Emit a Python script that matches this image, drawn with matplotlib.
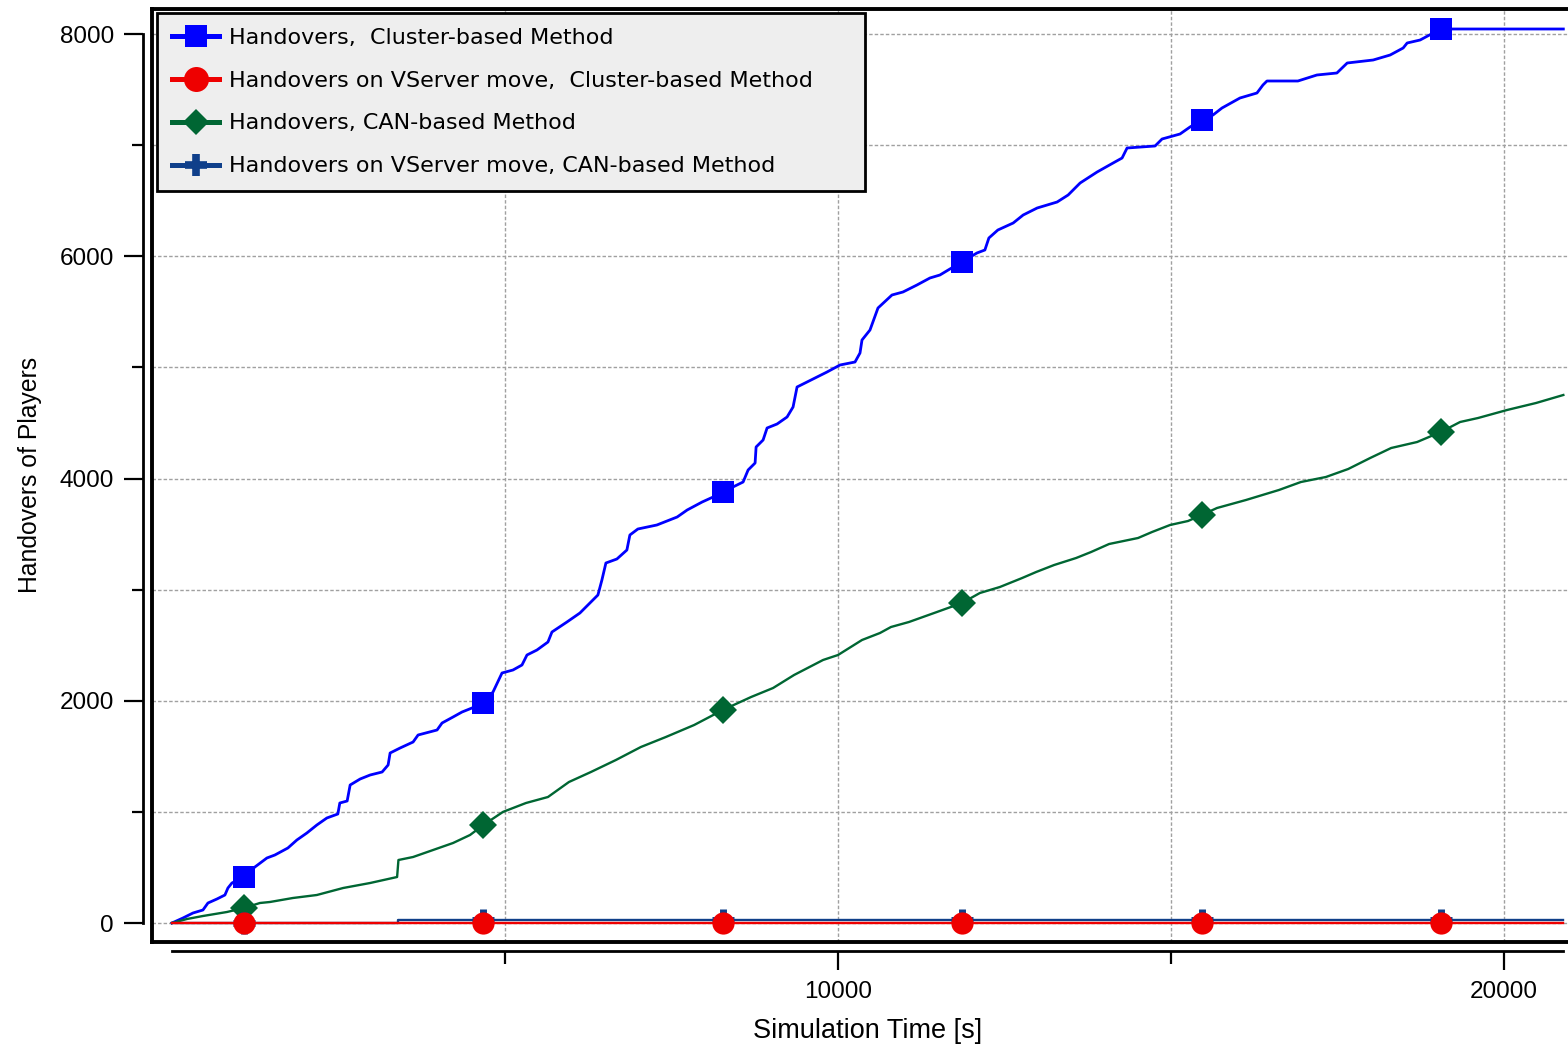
import matplotlib

matplotlib.use("Agg")
import matplotlib.pyplot as plt
from matplotlib.lines import Line2D

# Cumulative handovers over simulation time [s]
cluster_t = [0, 165, 225, 315, 465, 540, 675, 795, 840, 900, 1080, 1245, 1425, 1545, 1740,
             1875, 2025, 2175, 2325, 2490, 2520, 2630, 2675, 2825, 2975, 3155, 3245, 3275,
             3425, 3620, 3695, 3980, 4055, 4220, 4355, 4505, 4670, 4820, 4955, 5120, 5255,
             5330, 5480, 5645, 5705, 5930, 6125, 6275, 6395, 6455, 6515, 6680, 6830, 6875,
             6995, 7280, 7585, 7735, 7960, 8125, 8270, 8575, 8650, 8755, 8770, 8875, 8935,
             9085, 9235, 9325, 9385, 9535, 9835, 10030, 10255, 10330, 10360, 10480, 10600,
             10810, 10975, 11185, 11380, 11530, 11680, 11860, 12085, 12205, 12265, 12400,
             12630, 12780, 12990, 13290, 13455, 13635, 13890, 14130, 14265, 14340, 14760,
             14865, 15135, 15285, 15460, 15630, 15765, 16035, 16290, 16380, 16440, 16905,
             17190, 17490, 17645, 18035, 18290, 18485, 18545, 18740, 19050, 20890]
cluster_h = [0, 45, 63, 90, 117, 180, 216, 252, 315, 360, 414, 504, 585, 612, 675, 747, 810,
             882, 945, 981, 1080, 1098, 1242, 1296, 1332, 1359, 1422, 1530, 1575, 1629, 1692,
             1737, 1800, 1854, 1899, 1935, 1980, 2079, 2250, 2277, 2322, 2412, 2457, 2529,
             2619, 2709, 2790, 2880, 2952, 3087, 3240, 3276, 3357, 3492, 3546, 3582, 3654,
             3717, 3789, 3834, 3879, 3969, 4077, 4140, 4284, 4347, 4455, 4491, 4554, 4644,
             4824, 4869, 4959, 5022, 5049, 5130, 5247, 5337, 5535, 5652, 5679, 5742, 5805,
             5832, 5886, 5949, 6030, 6057, 6165, 6237, 6300, 6372, 6435, 6489, 6552, 6660,
             6759, 6840, 6885, 6975, 6993, 7056, 7101, 7164, 7227, 7272, 7335, 7425, 7470,
             7542, 7578, 7578, 7632, 7650, 7740, 7767, 7812, 7875, 7920, 7947, 8046, 8046]

cluster_vs_t = [0, 1080, 4670, 8270, 11860, 15460, 19050, 20890]
cluster_vs_h = [0, 0, 0, 0, 0, 0, 0, 0]

can_t = [0, 225, 465, 825, 1080, 1320, 1470, 1815, 2175, 2570, 2975, 3380, 3400, 3620, 3920,
         4220, 4475, 4670, 4970, 5315, 5645, 5960, 6290, 6665, 7040, 7415, 7840, 8270, 8695,
         9025, 9340, 9775, 10000, 10360, 10630, 10795, 11065, 11485, 11860, 12130, 12430,
         12765, 12975, 13245, 13575, 13800, 14070, 14505, 14715, 14985, 15255, 15460, 15690,
         16125, 16620, 16950, 17325, 17660, 17990, 18305, 18695, 19050, 19340, 19610, 20045,
         20480, 20890]
can_h = [0, 36, 63, 99, 135, 180, 189, 225, 252, 315, 360, 414, 567, 594, 657, 720, 792, 880,
         1000, 1080, 1134, 1269, 1359, 1467, 1584, 1674, 1782, 1917, 2034, 2115, 2232, 2367,
         2412, 2547, 2610, 2664, 2709, 2799, 2880, 2970, 3024, 3105, 3159, 3222, 3285, 3339,
         3411, 3465, 3519, 3582, 3618, 3672, 3735, 3807, 3897, 3969, 4014, 4086, 4185, 4275,
         4329, 4419, 4509, 4545, 4617, 4680, 4752]

can_vs_t = [0, 1080, 3390, 3390, 4670, 8270, 11860, 15460, 19050, 20890]
can_vs_h = [0, 0, 0, 30, 30, 30, 30, 30, 30, 30]

# samples that carry a symbol on each trace
marker_times = [1080, 4670, 8270, 11860, 15460, 19050]

labels = [
    "Handovers,  Cluster-based Method",
    "Handovers on VServer move,  Cluster-based Method",
    "Handovers, CAN-based Method",
    "Handovers on VServer move, CAN-based Method",
]

BLUE = "#0000ff"
RED = "#ee0000"
GREEN = "#006633"
NAVY = "#0f3f8a"
GRID = "#a0a0a0"


def marks(times):
    return [times.index(m) for m in marker_times]


plt.rcParams["font.family"] = ["Liberation Sans", "DejaVu Sans"]

W, H = 1568, 1047
fig = plt.figure(figsize=(W / 100, H / 100), dpi=100)
rect = [152 / W, 1 - 942 / H, (W - 152) / W, (942 - 9) / H]
xlim = (-300, 20960)
ylim = (-171, 8226)

# plot frame + grid
ax = fig.add_axes(rect)
ax.set_xlim(*xlim)
ax.set_ylim(*ylim)
for side in ("left", "top", "bottom"):
    ax.spines[side].set_linewidth(2.8)
ax.spines["right"].set_visible(False)
ax.set_xticks([5000, 10000, 15000, 20000])
ax.set_yticks(range(0, 8001, 1000))
ax.tick_params(length=0, labelleft=False, labelbottom=False)
ax.grid(True, color=GRID, linestyle=(0, (2.5, 1.5)), linewidth=1.0)
ax.set_axisbelow(True)

ax.plot(cluster_t, cluster_h, color=BLUE, lw=2.0, marker="s", ms=15.5, mew=0,
        markevery=marks(cluster_t), zorder=3)
ax.plot(can_t, can_h, color=GREEN, lw=1.7, marker="D", ms=14.5, mew=0,
        markevery=marks(can_t), zorder=3)
ax.plot(can_vs_t, can_vs_h, color=NAVY, lw=1.7, marker="+", ms=16, mew=5,
        markevery=marks(can_vs_t), zorder=4)
ax.plot(cluster_vs_t, cluster_vs_h, color=RED, lw=1.7, marker="o", ms=16, mew=0,
        markevery=marks(cluster_vs_t), zorder=5)

handles = [
    Line2D([], [], color=BLUE, lw=3.6, marker="s", ms=16.5, mew=0),
    Line2D([], [], color=RED, lw=3.6, marker="o", ms=18, mew=0),
    Line2D([], [], color=GREEN, lw=3.6, marker="D", ms=13, mew=0),
    Line2D([], [], color=NAVY, lw=3.6, marker="+", ms=16, mew=5.5),
]
leg = ax.legend(
    handles, labels,
    loc="upper left",
    bbox_to_anchor=(157 / W, 1 - 188 / H, 708 / W, 175 / H),
    bbox_transform=fig.transFigure,
    mode="expand",
    borderaxespad=0,
    prop={"family": "DejaVu Sans", "size": 16},
    handlelength=2.15,
    handletextpad=0.45,
    borderpad=0.66,
    labelspacing=1.03,
    fancybox=False,
    framealpha=1,
    facecolor="#eeeeee",
    edgecolor="black",
)
leg.get_frame().set_linewidth(2)
leg.set_zorder(10)

# detached axis lines with ticks and labels
tax = fig.add_axes(rect, facecolor="none")
tax.set_xlim(*xlim)
tax.set_ylim(*ylim)
tax.spines["top"].set_visible(False)
tax.spines["right"].set_visible(False)
tax.spines["left"].set_position(("outward", 6.5))
tax.spines["bottom"].set_position(("outward", 6.5))
tax.spines["left"].set_bounds(0, 8000)
tax.spines["bottom"].set_bounds(0, 20890)
tax.spines["left"].set_linewidth(2)
tax.spines["bottom"].set_linewidth(2)

tax.set_xticks([10000, 20000])
tax.set_xticks([5000, 15000], minor=True)
tax.set_yticks(range(0, 8001, 2000))
tax.set_yticks(range(1000, 8000, 2000), minor=True)
tax.tick_params(axis="y", which="major", length=14, width=1.6, labelsize=17.5, pad=7)
tax.tick_params(axis="y", which="minor", length=8, width=1.6)
tax.tick_params(axis="x", which="major", length=13.5, width=1.6, labelsize=17.5, pad=8)
tax.tick_params(axis="x", which="minor", length=9.5, width=1.6)

tax.set_xlabel("Simulation Time [s]", fontsize=19.5)
tax.xaxis.set_label_coords(0.505, -0.0816)
tax.set_ylabel("Handovers of Players", fontsize=17.8)
tax.yaxis.set_label_coords(-0.0777, 0.501)

fig.savefig("out.png", dpi=100)
